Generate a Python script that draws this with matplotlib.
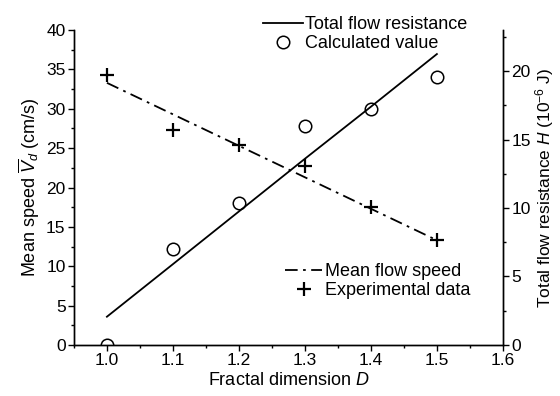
import matplotlib.pyplot as plt
import numpy as np

plt.rcParams['font.family'] = ['Liberation Sans', 'DejaVu Sans']
plt.rcParams['mathtext.fontset'] = 'custom'
plt.rcParams['mathtext.rm'] = 'Liberation Sans'
plt.rcParams['mathtext.it'] = 'Liberation Sans:italic'

# fractal dimension
D = [1.0, 1.1, 1.2, 1.3, 1.4, 1.5]

# mean flow speed (cm/s), left axis
speed_exp = [34.3, 27.3, 25.4, 22.7, 17.5, 13.3]
speed_line = [33.3, 29.3, 25.3, 21.3, 17.3, 13.3]

# total flow resistance H (1e-6 J), right axis
H_calc = [0.0, 7.0, 10.4, 16.0, 17.2, 19.6]
H_line = [2.06, 5.9, 9.75, 13.6, 17.4, 21.25]

fig = plt.figure(figsize=(5.6, 3.96), dpi=100)
ax = fig.add_axes([0.132, 0.129, 0.766, 0.795])
ax2 = ax.twinx()

l1, = ax.plot(D, speed_line, color='black', linestyle=(0, (7, 3, 1.5, 3)), linewidth=1.3)
p1, = ax.plot(D, speed_exp, linestyle='none', marker='+', color='black', markersize=10, markeredgewidth=1.6)

l2, = ax2.plot(D, H_line, color='black', linewidth=1.3)
p2, = ax2.plot(D, H_calc, linestyle='none', marker='o', markerfacecolor='none',
               markeredgecolor='black', markersize=9, markeredgewidth=1.1)

ax.set_xlim(0.95, 1.6)
ax.set_ylim(0, 40)
ax2.set_ylim(0, 23)

ax.set_xticks([1.0, 1.1, 1.2, 1.3, 1.4, 1.5, 1.6])
ax.set_xticks(np.arange(0.95, 1.6, 0.1), minor=True)
ax.set_yticks(range(0, 41, 5))
ax.set_yticks(np.arange(2.5, 40, 5), minor=True)
ax2.set_yticks(range(0, 21, 5))
ax2.set_yticks(np.arange(2.5, 23, 5), minor=True)

for a in (ax, ax2):
    a.spines['top'].set_visible(False)
    a.tick_params(which='major', length=4, width=1, labelsize=12.5, pad=2)
    a.tick_params(which='minor', length=2.5, width=1)
    for s in a.spines.values():
        s.set_linewidth(1)

ax.set_xlabel('Fractal dimension $\\mathit{D}$', fontsize=13, labelpad=3)
ax.set_ylabel('Mean speed $\\overline{V}_{\\mathit{d}}$ (cm/s)', fontsize=13, labelpad=3)
ax2.set_ylabel('Total flow resistance $\\mathit{H}$ (10$^{-6}$ J)', fontsize=12.5, labelpad=2)

fig.legend([l2, p2], ['Total flow resistance', 'Calculated value'],
           loc='upper left', bbox_to_anchor=(0.47, 0.96), frameon=False,
           fontsize=13, handlelength=2.2, handletextpad=0.12, labelspacing=0.12,
           borderpad=0, borderaxespad=0)
fig.legend([l1, p1], ['Mean flow speed', 'Experimental data'],
           loc='upper left', bbox_to_anchor=(0.509, 0.336), frameon=False,
           fontsize=13, handlelength=2.05, handletextpad=0.15, labelspacing=0.12,
           borderpad=0, borderaxespad=0)

plt.savefig('out.png', dpi=100)
